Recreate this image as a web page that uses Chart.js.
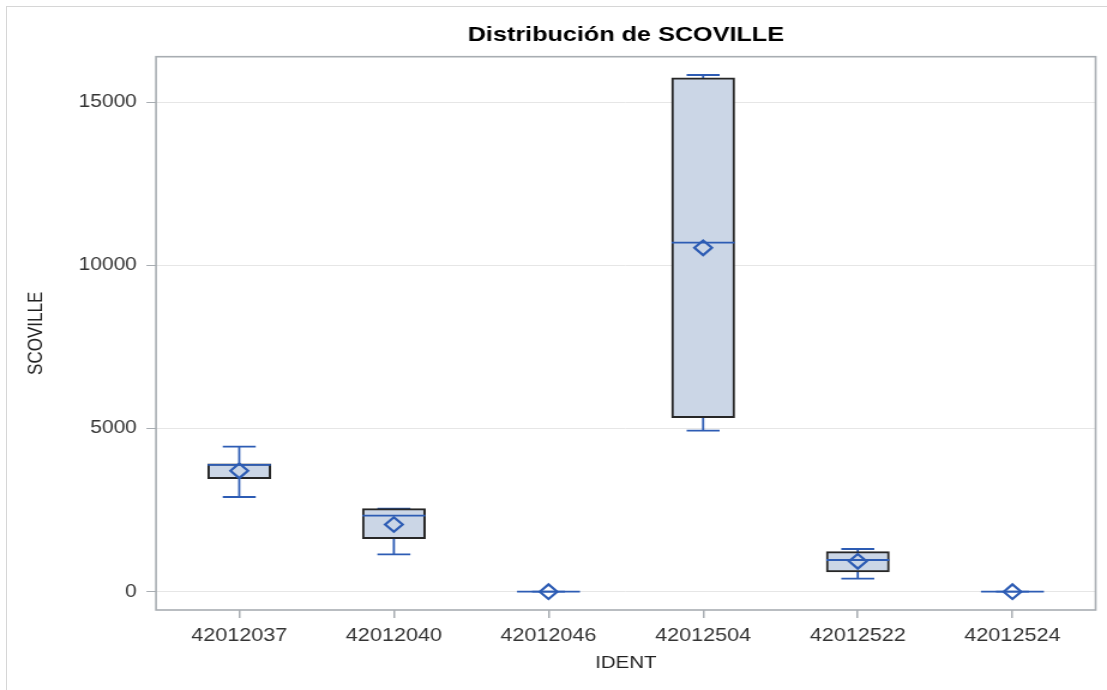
<!DOCTYPE html>
<html>
<head>
<meta charset="utf-8">
<script src="https://cdn.jsdelivr.net/npm/chart.js@4.4.1/dist/chart.umd.min.js"></script>
<style>
  html, body { margin: 0; padding: 0; background: #fff; overflow: hidden; }
  body { width: 1107px; height: 690px; position: relative; }
  #frame { position: absolute; left: 6px; top: 6px; width: 1200px; height: 800px;
           border-left: 1.5px solid #d6d6d6; border-top: 1.5px solid #d6d6d6; }
  /* the graph is laid out at 923px wide and widened to fill the page */
  #wrap { position: absolute; left: 0; top: 0; width: 923px; height: 690px;
          transform: scaleX(1.19935); transform-origin: 0 0; }
</style>
</head>
<body>
<div id="frame"></div>
<div id="wrap"><canvas id="c"></canvas></div>
<script>
// SCOVILLE distribution per IDENT
const categories = ['42012037', '42012040', '42012046', '42012504', '42012522', '42012524'];
const minV    = [2903, 1146, 0, 4935,  398, 0];
const q1V     = [3464, 1624, 0, 5333,  604, 0];
const medianV = [3890, 2329, 0, 10697, 972, 0];
const q3V     = [3923, 2544, 0, 15754, 1226, 0];
const maxV    = [4444, 2544, 0, 15837, 1309, 0];
const meanV   = [3705, 2060, 0, 10540, 932, 0];
const yTicks  = [0, 5000, 10000, 15000];

const FONT = '"Liberation Sans", Arial, sans-serif';
const BLUE = '#2d5cb4';
const BOX_W = 52.5;
const CAP_W = 27.5;

const boxParts = {
  id: 'boxParts',
  beforeDatasetsDraw(chart) {
    const { ctx, chartArea: a, scales: { x, y } } = chart;
    ctx.save();
    // plot frame
    ctx.strokeStyle = '#a8adb2';
    ctx.lineWidth = 1.6;
    ctx.strokeRect(a.left, a.top, a.right - a.left, a.bottom - a.top);
    // whiskers and caps
    ctx.strokeStyle = BLUE;
    ctx.lineWidth = 1.8;
    categories.forEach((c, i) => {
      const px = x.getPixelForValue(i);
      ctx.beginPath();
      ctx.moveTo(px, y.getPixelForValue(minV[i]));
      ctx.lineTo(px, y.getPixelForValue(maxV[i]));
      [minV[i], maxV[i]].forEach(v => {
        const py = y.getPixelForValue(v);
        ctx.moveTo(px - CAP_W / 2, py);
        ctx.lineTo(px + CAP_W / 2, py);
      });
      ctx.stroke();
    });
    ctx.restore();
  },
  afterDatasetDraw(chart, args) {
    if (args.index !== 0) return;
    const { ctx, scales: { x, y } } = chart;
    ctx.save();
    ctx.strokeStyle = BLUE;
    ctx.lineWidth = 1.8;
    categories.forEach((c, i) => {
      const px = x.getPixelForValue(i);
      const py = y.getPixelForValue(medianV[i]);
      ctx.beginPath();
      ctx.moveTo(px - BOX_W / 2, py);
      ctx.lineTo(px + BOX_W / 2, py);
      ctx.stroke();
    });
    ctx.restore();
  },
  afterDraw(chart) {
    const { ctx, chartArea: a } = chart;
    ctx.save();
    ctx.fillStyle = '#000';
    ctx.font = 'bold 21px ' + FONT;
    ctx.textAlign = 'center';
    ctx.textBaseline = 'middle';
    ctx.fillText('Distribución de SCOVILLE', (a.left + a.right) / 2, 35.5);
    ctx.restore();
  }
};

new Chart(document.getElementById('c'), {
  type: 'bar',
  data: {
    datasets: [
      {
        label: 'caja',
        order: 2,
        data: categories.map((c, i) => ({ x: i, y: q3V[i] > q1V[i] ? [q1V[i], q3V[i]] : null })),
        backgroundColor: '#cbd6e6',
        borderColor: '#262626',
        borderWidth: 2,
        borderSkipped: false,
        barThickness: BOX_W
      },
      {
        label: 'media',
        type: 'line',
        order: 1,
        showLine: false,
        data: categories.map((c, i) => ({ x: i, y: meanV[i] })),
        pointStyle: 'rectRot',
        pointRadius: 7.3,
        pointBorderWidth: 2.2,
        pointBorderColor: BLUE,
        pointBackgroundColor: 'rgba(0,0,0,0)'
      }
    ]
  },
  options: {
    responsive: true,
    maintainAspectRatio: false,
    animation: false,
    events: [],
    layout: { padding: { top: 56.7, right: 8.5, bottom: 0, left: 0 } },
    plugins: { legend: { display: false }, tooltip: { enabled: false }, title: { display: false } },
    scales: {
      x: {
        type: 'linear',
        offset: false,
        min: -0.538,
        max: 5.538,
        afterBuildTicks: s => { s.ticks = categories.map((c, i) => ({ value: i })); },
        afterFit: s => { s.height = 80; },
        grid: { offset: false, drawOnChartArea: false, drawTicks: true, tickLength: 8, tickColor: '#a8adb2', lineWidth: 1.5 },
        border: { display: false },
        ticks: {
          callback: v => categories[v],
          font: { family: FONT, size: 18 },
          color: '#333',
          padding: 7.5,
          maxRotation: 0,
          autoSkip: false
        },
        title: {
          display: true,
          text: 'IDENT',
          font: { family: FONT, size: 17 },
          color: '#222',
          padding: { top: 0, bottom: 16.8 }
        }
      },
      y: {
        min: -561,
        max: 16398,
        afterBuildTicks: s => { s.ticks = yTicks.map(v => ({ value: v })); },
        afterFit: s => { s.width = 130.1; },
        grid: { color: '#e6e6e6', lineWidth: 1, tickLength: 8, tickColor: '#a8adb2' },
        border: { display: false },
        ticks: {
          font: { family: FONT, size: 17.5 },
          color: '#333',
          padding: 8,
          callback: v => String(v)
        },
        title: {
          display: true,
          text: 'SCOVILLE',
          font: { family: FONT, size: 17 },
          color: '#222',
          padding: { top: 20.2, bottom: 0 }
        }
      }
    }
  },
  plugins: [boxParts]
});
</script>
</body>
</html>
